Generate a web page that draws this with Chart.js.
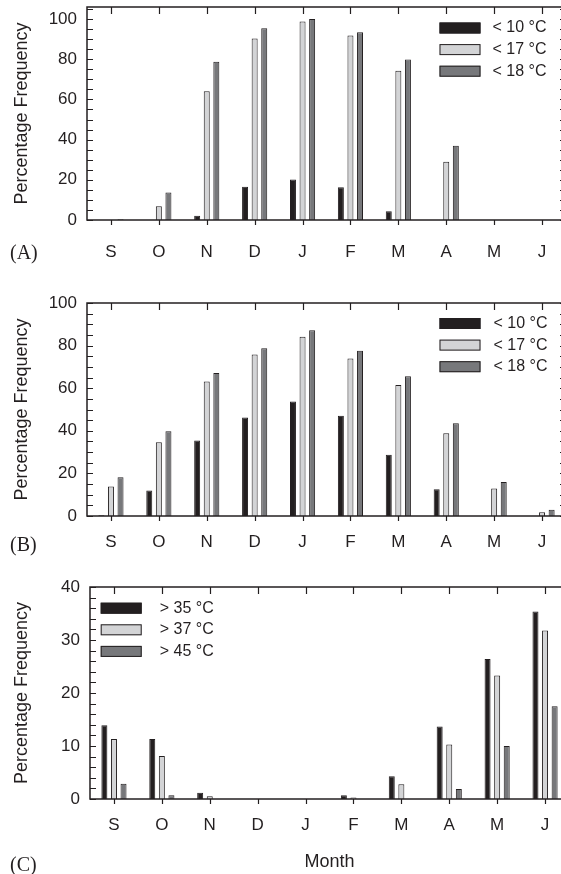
<!DOCTYPE html>
<html lang="en">

<head>
    <meta charset="UTF-8">
    <title>Percentage Frequency by Month</title>
    <script src="https://cdn.jsdelivr.net/npm/chart.js"></script>
    <style>
        html, body {
            margin: 0;
            padding: 0;
            background: #ffffff;
            overflow: hidden;
        }

        .page {
            position: relative;
            width: 561px;
            height: 874px;
            overflow: hidden;
        }

        .page canvas {
            position: absolute;
            left: 0;
        }

        .tag {
            position: absolute;
            left: 10px;
            font-family: 'Liberation Serif', 'Times New Roman', serif;
            font-size: 20px;
            line-height: 20px;
            color: #231f20;
        }
    </style>
</head>

<body>
    <div class="page">
        <canvas id="chartA" width="580" height="279" style="top:-9px"></canvas>
        <canvas id="chartB" width="580" height="279" style="top:287px"></canvas>
        <canvas id="chartC" width="580" height="303" style="top:571px"></canvas>
        <div class="tag" style="top:242px">(A)</div>
        <div class="tag" style="top:534px">(B)</div>
        <div class="tag" style="top:854px">(C)</div>
    </div>

    <script>
        // months, Sept -> June
        const months = ['S', 'O', 'N', 'D', 'J', 'F', 'M', 'A', 'M', 'J'];

        // panel A
        const below10A = [0, 0, 2.1, 16.5, 20.1, 16.3, 4.3, 0, 0, 0];
        const below17A = [0, 6.8, 64.1, 90.3, 98.8, 91.8, 74.3, 29.0, 0, 0];
        const below18A = [0.4, 13.7, 78.7, 95.4, 100, 93.4, 79.9, 36.9, 0, 0];

        // panel B
        const below10B = [0.3, 12.0, 35.4, 46.3, 53.8, 47.1, 28.8, 12.6, 0, 0];
        const below17B = [13.8, 34.6, 63.2, 75.8, 84.2, 73.9, 61.5, 38.8, 12.9, 1.8];
        const below18B = [18.2, 39.8, 67.1, 78.7, 87.2, 77.6, 65.6, 43.5, 16.0, 2.9];

        // panel C
        const above35C = [13.9, 11.3, 1.2, 0, 0, 0.7, 4.3, 13.7, 26.4, 35.4];
        const above37C = [11.3, 8.1, 0.5, 0, 0, 0.3, 2.8, 10.3, 23.3, 31.8];
        const above45C = [2.9, 0.7, 0, 0, 0, 0, 0, 1.9, 10.0, 17.5];

        const colBlack = '#231f20';
        const colLight = '#d3d4d6';
        const colDark = '#77787b';
        const ink = '#231f20';
        const sans = "'Liberation Sans', Arial, sans-serif";

        function series(label, values, colour) {
            return {
                label: label,
                data: values,
                backgroundColor: colour,
                borderColor: ink,
                borderWidth: 1,
                categoryPercentage: 0.6,
                barPercentage: 0.625
            };
        }

        // frame, inner ticks and legend drawn on top of the chart
        const frameTicks = {
            id: 'frameTicks',
            afterDraw(chart, args, opts) {
                const ctx = chart.ctx;
                const area = chart.chartArea;
                const x = chart.scales.x;
                const y = chart.scales.y;
                ctx.save();
                ctx.strokeStyle = ink;
                ctx.lineWidth = 1.5;
                ctx.strokeRect(area.left, area.top, area.right - area.left, area.bottom - area.top);

                ctx.lineWidth = 1.2;
                ctx.beginPath();
                for (let v = 0; v <= y.max + 0.001; v += opts.minor) {
                    const py = Math.round(y.getPixelForValue(v)) + 0.5;
                    ctx.moveTo(area.left, py);
                    ctx.lineTo(area.left + 6, py);
                    ctx.moveTo(area.right, py);
                    ctx.lineTo(area.right - 6, py);
                }
                for (let i = 0; i < months.length; i++) {
                    const px = Math.round(x.getPixelForValue(i)) + 0.5;
                    ctx.moveTo(px, area.top);
                    ctx.lineTo(px, area.top + 7);
                    ctx.moveTo(px, area.bottom);
                    ctx.lineTo(px, area.bottom + 5);
                }
                ctx.stroke();

                // legend
                const lg = opts.legend;
                ctx.font = '16px ' + sans;
                ctx.textBaseline = 'middle';
                ctx.textAlign = 'left';
                chart.data.datasets.forEach((ds, i) => {
                    const bx = area.left + lg.dx;
                    const by = area.top + lg.dy + i * 21.6;
                    ctx.fillStyle = ds.backgroundColor;
                    ctx.fillRect(bx, by, 41, 11);
                    ctx.lineWidth = 1;
                    ctx.strokeStyle = ink;
                    ctx.strokeRect(bx + 0.5, by + 0.5, 40, 10);
                    ctx.fillStyle = ink;
                    ctx.fillText(ds.label, bx + 41 + lg.gap, by + 5.5);
                });
                ctx.restore();
            }
        };

        function panel(id, datasets, yMax, yStep, minor, g) {
            new Chart(document.getElementById(id), {
                type: 'bar',
                data: { labels: months, datasets: datasets },
                plugins: [frameTicks],
                options: {
                    responsive: false,
                    animation: false,
                    layout: { padding: { top: 16, right: g.padRight, left: 0, bottom: 0 } },
                    plugins: {
                        legend: { display: false },
                        tooltip: { enabled: false },
                        frameTicks: { minor: minor, legend: g.legend }
                    },
                    scales: {
                        x: {
                            grid: { display: false, drawTicks: false },
                            border: { display: false },
                            ticks: { padding: g.xPad, color: ink, font: { family: sans, size: 17 }, maxRotation: 0, autoSkip: false },
                            title: g.xTitle,
                            afterFit: s => { s.height = g.xH; s.paddingLeft = 0; s.paddingRight = 0; }
                        },
                        y: {
                            min: 0,
                            max: yMax,
                            bounds: 'data',
                            grid: { display: false, drawTicks: false },
                            border: { display: false },
                            ticks: { stepSize: yStep, includeBounds: false, padding: 10, color: ink, font: { family: sans, size: 17 } },
                            afterBuildTicks: s => { s.ticks = s.ticks.filter(t => t.value % yStep === 0 && t.value <= yMax); },
                            title: {
                                display: true,
                                text: 'Percentage Frequency',
                                color: ink,
                                font: { family: sans, size: 18 },
                                padding: { top: 11, bottom: 0 }
                            },
                            afterFit: s => { s.width = g.left; s.paddingTop = 0; s.paddingBottom = 0; }
                        }
                    }
                }
            });
        }

        panel('chartA', [
            series('< 10 °C', below10A, colBlack),
            series('< 17 °C', below17A, colLight),
            series('< 18 °C', below18A, colDark)
        ], 106, 20, 5, {
            left: 87, padRight: 14, xH: 50, xPad: 22,
            xTitle: { display: false },
            legend: { dx: 352.5, dy: 15.5, gap: 12 }
        });

        panel('chartB', [
            series('< 10 °C', below10B, colBlack),
            series('< 17 °C', below17B, colLight),
            series('< 18 °C', below18B, colDark)
        ], 100, 20, 5, {
            left: 87, padRight: 14, xH: 50, xPad: 16,
            xTitle: { display: false },
            legend: { dx: 352.5, dy: 15, gap: 13 }
        });

        panel('chartC', [
            series('> 35 °C', above35C, colBlack),
            series('> 37 °C', above37C, colLight),
            series('> 45 °C', above45C, colDark)
        ], 40, 10, 2, {
            left: 90, padRight: 11, xH: 75, xPad: 16,
            xTitle: { display: true, text: 'Month', color: ink, font: { family: sans, size: 18 }, padding: { top: 0, bottom: 1 } },
            legend: { dx: 10.7, dy: 15.7, gap: 18 }
        });
    </script>
</body>

</html>
